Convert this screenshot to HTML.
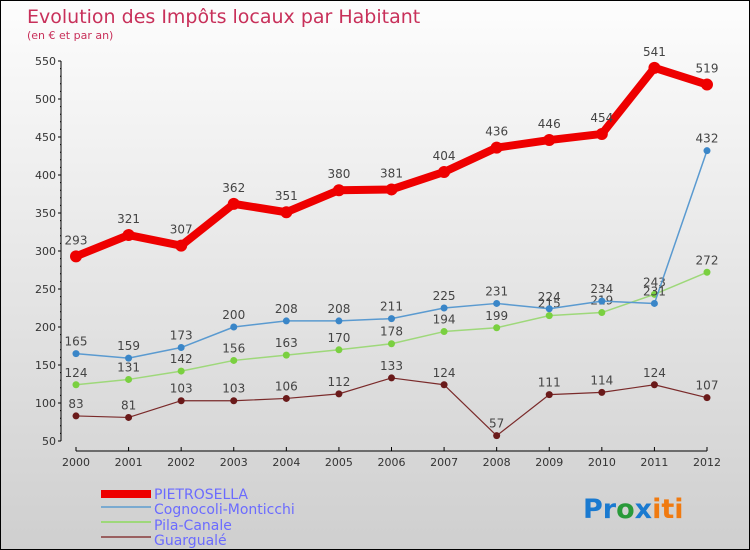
<!DOCTYPE html>
<html><head><meta charset="utf-8"><style>
body{margin:0}
#c{width:750px;height:550px;position:relative;box-sizing:border-box;border:1px solid #000;background:linear-gradient(#fdfdfd,#cfcfcf);font-family:"DejaVu Sans","Liberation Sans",sans-serif;overflow:hidden}
</style></head><body>
<div id="c">
<svg id="s" width="748" height="548" style="position:absolute;left:0;top:0">
<text x="26" y="22" font-size="19" fill="#c8305a">Evolution des Impôts locaux par Habitant</text>
<text x="26" y="38" font-size="11" fill="#c8305a">(en € et par an)</text>
<g id="axes"></g><g id="series"></g>
<g>
<rect x="100" y="489" width="50" height="8" fill="#e00"/>
<text x="153" y="498" font-size="14" fill="#6b6bff">PIETROSELLA</text>
<rect x="100" y="505" width="50" height="2" fill="#7aaad0"/>
<text x="153" y="513" font-size="14" fill="#6b6bff">Cognocoli-Monticchi</text>
<rect x="100" y="520" width="50" height="2" fill="#9ed87a"/>
<text x="153" y="529" font-size="14" fill="#6b6bff">Pila-Canale</text>
<rect x="100" y="535" width="50" height="2" fill="#9a6060"/>
<text x="153" y="544" font-size="14" fill="#6b6bff">Guargualé</text>
</g>
<text x="582" y="517" font-size="27" font-weight="bold"><tspan fill="#1a7ad0">Pr</tspan><tspan fill="#2a9a3a">o</tspan><tspan fill="#1a7ad0">x</tspan><tspan fill="#f07a10">iti</tspan></text>
</svg></div>
<script>
const years=["2000","2001","2002","2003","2004","2005","2006","2007","2008","2009","2010","2011","2012"];
const yTicks=[50,100,150,200,250,300,350,400,450,500,550];
const pietrosella=[293,321,307,362,351,380,381,404,436,446,454,541,519];
const cognocoli=[165,159,173,200,208,208,211,225,231,224,234,231,432];
const pila=[124,131,142,156,163,170,178,194,199,215,219,243,272];
const guarguale=[83,81,103,103,106,112,133,124,57,111,114,124,107];
const NS="http://www.w3.org/2000/svg";
const X=i=>75+i*(631/12), Y=v=>440-(v-50)*0.76;
function mk(t,a,p){const e=document.createElementNS(NS,t);for(const k in a)e.setAttribute(k,a[k]);p.appendChild(e);return e;}
const ax=document.getElementById('axes');
let e=mk('line',{x1:60,y1:Y(550),x2:60,y2:Y(50),stroke:'#000'},ax);


e=mk('line',{x1:75,y1:450,x2:706,y2:450,stroke:'#000'},ax);


yTicks.forEach(v=>{mk('line',{x1:57,y1:Y(v),x2:60,y2:Y(v),stroke:'#000'},ax);
 for(let m=1;m<5&&v<550;m++)mk('line',{x1:59,y1:Y(v+m*10),x2:60,y2:Y(v+m*10),stroke:'#000'},ax);
 const t=mk('text',{x:55,y:Y(v)+4,'font-size':11,fill:'#333','text-anchor':'end'},ax);t.textContent=v;
 
 });
years.forEach((y,i)=>{mk('line',{x1:X(i),y1:446,x2:X(i),y2:450,stroke:'#000'},ax);
 const t=mk('text',{x:X(i),y:465,'font-size':11,fill:'#333','text-anchor':'middle'},ax);t.textContent=y;
 
 });
const sg=document.getElementById('series');
function draw(d,name,col,w,r,fill,lab){
 const g=mk('g',{},sg);
 
 
 mk('polyline',{points:d.map((v,i)=>X(i)+','+Y(v)).join(' '),fill:'none',stroke:col,'stroke-width':w,'stroke-linejoin':'round'},g);
 d.forEach((v,i)=>{const c=mk('circle',{cx:X(i),cy:Y(v),r:r,fill:fill},g);
  
  
  const t=mk('text',{x:X(i),y:Y(v)-lab,'font-size':12,fill:'#444','text-anchor':'middle'},g);t.textContent=v;
  
  });
}
draw(guarguale,'guarguale','#7a2a2a',1.2,3.5,'#6a1a1a',8);
draw(pila,'pila-canale','#9ed87a',1.5,3.5,'#7ad040',8);
draw(cognocoli,'cognocoli','#5a9ad0',1.5,3.5,'#3a86c8',8);
draw(pietrosella,'pietrosella','#e00',8,6,'#e00',12);
</script></body></html>
